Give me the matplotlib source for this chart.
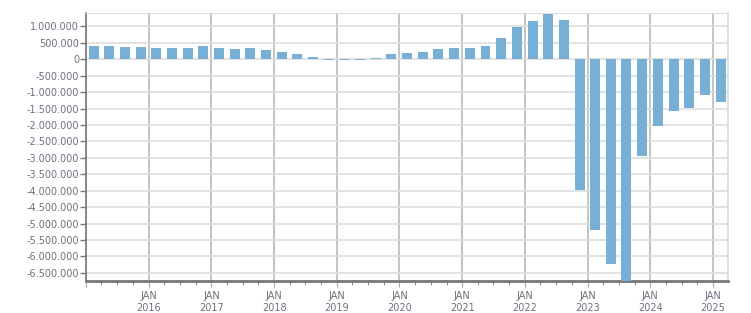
import pandas as pd
import matplotlib
matplotlib.use('Agg')
import matplotlib.pyplot as plt
import matplotlib.dates as mdates
from matplotlib.ticker import FuncFormatter, MultipleLocator

# quarterly values, Q1 2015 .. Q1 2025
quarters = pd.period_range('2015Q1', '2025Q1', freq='Q')
valores = [410000, 410000, 380000, 380000, 350000, 350000, 350000, 410000,
           350000, 315000, 350000, 285000, 225000, 165000, 70000, -15000,
           -15000, -15000, 40000, 165000, 195000, 225000, 315000, 350000,
           350000, 410000, 650000, 985000, 1170000, 1380000, 1200000,
           -3990000, -5200000, -6240000, -7000000, -2940000, -2020000,
           -1570000, -1470000, -1080000, -1290000]

txt = '#6f6f80'

# centro de cada trimestre
fechas = [q.start_time + pd.Timedelta(days=45) for q in quarters]

fig = plt.figure(figsize=(7.51, 3.13), dpi=100)
ax = fig.add_axes([0.1145, 0.1022, 0.855, 0.8563])

ax.bar(fechas, valores, width=58, color='#77b0d4', zorder=3)

ax.set_xlim(pd.Timestamp('2015-01-01'), pd.Timestamp('2025-03-29'))
ax.set_ylim(-6750000, 1410000)

# eje y
ax.yaxis.set_major_locator(MultipleLocator(500000))
ax.yaxis.set_major_formatter(FuncFormatter(lambda v, p: f'{int(v):,}'.replace(',', '.')))
ax.grid(axis='y', color='#dddddd', lw=1.2, zorder=0)

# eje x
def etiqueta(v, p):
    d = mdates.num2date(v)
    if d.year <= 2015:
        return ''
    return 'JAN\n' + str(d.year)

ax.xaxis.set_major_locator(mdates.YearLocator(month=1))
ax.xaxis.set_major_formatter(FuncFormatter(etiqueta))
ax.xaxis.set_minor_locator(mdates.MonthLocator(bymonth=[4, 7, 10]))
ax.grid(axis='x', which='major', color='#b4b4b4', lw=1.1, zorder=1)

ax.tick_params(axis='y', labelsize=7, colors=txt, length=4, width=1, pad=1)
ax.tick_params(axis='y', color='#777777')
ax.tick_params(axis='x', which='major', labelsize=7, labelcolor=txt, length=4, color='#aaaaaa', pad=3)
ax.tick_params(axis='x', which='minor', length=3, color='#777777')
for lab in ax.get_xticklabels():
    lab.set_linespacing(1.25)

ax.spines['left'].set_color('#777777')
ax.spines['left'].set_linewidth(1.2)
ax.spines['bottom'].set_color('#777777')
ax.spines['bottom'].set_linewidth(2)
ax.spines['top'].set_color('#dddddd')
ax.spines['right'].set_color('#dddddd')
ax.spines['right'].set_linewidth(1.3)

fig.savefig('out.png', dpi=100)
